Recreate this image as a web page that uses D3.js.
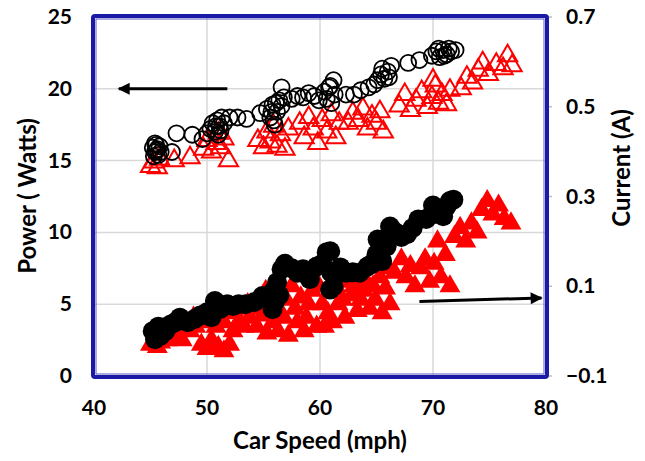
<!DOCTYPE html>
<html>
<head>
<meta charset="utf-8">
<script src="https://cdn.jsdelivr.net/npm/d3@7/dist/d3.min.js"></script>
<style>
  html, body { margin: 0; padding: 0; background: #fff; }
  svg { display: block; font-family: Lato, 'Noto Sans', sans-serif; font-weight: bold; }
</style>
</head>
<body>
<div id="chart"></div>
<script>
// Speed (mph) vs power (W, left axis) and current (A, right axis)
const speedTicks = [40, 50, 60, 70, 80]
const powerTicks = [0, 5, 10, 15, 20, 25]
const currentTicks = [-0.1, 0.1, 0.3, 0.5, 0.7]

// open black circles: [speed, power]
const powerCircles = [
  [45.2, 15.9], [45.4, 15.6], [45.5, 16.1], [45.6, 15.8], [45.7, 15.4], [45.8, 16.0], [45.3, 15.3],
  [45.5, 15.7], [45.9, 15.6], [45.4, 16.2],
  [46.9, 15.6], [47.3, 16.9],
  [48.7, 16.8], [49.6, 16.5], [50.0, 16.9], [50.3, 17.2], [50.5, 17.6], [50.7, 17.0], [50.9, 17.8],
  [51.1, 17.4], [51.3, 18.0], [51.5, 17.6], [51.0, 16.8], [50.8, 17.4], [51.2, 17.1],
  [52.0, 18.0], [52.7, 18.0], [53.5, 17.9],
  [54.7, 18.3], [55.3, 18.6], [55.6, 18.0], [55.8, 18.9], [56.0, 17.5], [56.2, 18.4], [56.4, 19.2],
  [56.6, 18.8], [56.8, 19.4], [56.6, 20.1], [55.9, 17.8], [56.1, 19.0], [55.7, 18.4],
  [57.5, 19.3], [58.0, 19.5], [58.5, 19.4], [59.0, 19.7], [59.5, 19.5], [59.9, 19.2],
  [60.4, 19.8], [60.6, 19.3], [60.8, 20.1], [61.0, 19.0], [61.2, 20.6], [61.3, 19.6], [60.9, 20.2],
  [62.3, 19.6], [63.0, 19.6], [63.6, 19.9], [64.3, 20.1], [64.8, 20.3],
  [65.1, 20.6], [65.4, 21.0], [65.7, 20.7], [65.5, 21.4], [66.0, 21.2], [66.3, 21.6], [66.1, 20.8],
  [67.8, 21.8], [68.8, 22.0],
  [69.9, 22.3], [70.3, 22.6], [70.6, 22.2], [70.9, 22.7], [71.2, 22.4], [71.6, 22.6], [72.0, 22.7],
  [71.4, 22.8], [70.5, 22.8], [71.0, 22.3]
]

// open red triangles: [speed, power]
const powerTriangles = [
  [45.0, 14.6], [45.3, 14.9], [45.6, 14.5], [45.8, 15.1], [47.1, 15.0], [48.5, 15.2],
  [49.7, 15.8], [50.0, 16.4], [50.4, 15.6], [50.8, 16.2], [51.2, 15.9], [51.5, 16.5], [51.9, 15.0], [51.0, 16.9],
  [54.5, 16.4], [55.0, 15.9], [55.3, 17.0], [55.6, 16.3], [55.9, 17.4], [56.2, 16.0], [56.5, 16.8],
  [56.9, 15.8], [57.2, 17.2],
  [58.2, 17.6], [58.6, 16.6], [59.0, 18.0], [59.4, 17.2], [59.8, 16.2], [60.2, 17.8], [60.6, 17.0],
  [61.0, 18.2], [61.4, 16.6], [61.7, 17.6],
  [62.5, 17.6], [62.9, 18.3], [63.4, 17.8], [63.8, 18.6], [64.2, 17.2], [64.6, 18.1], [65.0, 17.6],
  [65.3, 18.4], [65.6, 17.0],
  [67.0, 18.8], [67.5, 19.6], [68.0, 18.5], [68.5, 19.2], [69.0, 19.8], [69.5, 18.7], [69.9, 19.4],
  [70.2, 20.2], [70.5, 19.0], [70.8, 19.6], [71.2, 18.9], [71.5, 19.9], [70.0, 20.6],
  [72.5, 20.0], [73.0, 20.8], [73.5, 20.4], [74.0, 21.3], [74.4, 21.8], [74.9, 21.0], [75.6, 21.7],
  [76.2, 21.4], [76.6, 22.3], [77.0, 21.6]
]

// filled black circles: [speed, current]
const currentCircles = [
  [45.2, 0.0], [45.4, -0.018], [45.6, 0.005], [45.9, -0.01], [45.7, 0.01], [46.3, 0.0], [46.8, 0.015],
  [47.2, 0.02], [47.6, 0.03], [48.3, 0.02], [48.9, 0.027], [49.4, 0.035],
  [50.0, 0.042], [50.4, 0.031], [50.7, 0.067], [51.2, 0.05], [51.8, 0.06],
  [52.3, 0.056], [52.8, 0.06], [53.4, 0.06], [54.2, 0.065], [54.9, 0.078], [55.4, 0.075],
  [55.8, 0.049], [55.9, 0.09], [56.0, 0.065], [56.4, 0.08], [56.2, 0.109], [56.6, 0.138], [56.9, 0.15],
  [57.5, 0.14], [58.0, 0.13], [58.5, 0.138], [59.1, 0.116], [59.7, 0.144], [60.2, 0.15], [60.6, 0.176],
  [60.9, 0.178], [61.0, 0.13], [61.2, 0.1], [60.9, 0.093], [61.8, 0.142], [62.3, 0.13],
  [62.9, 0.131], [63.5, 0.13], [64.2, 0.144], [64.6, 0.15], [65.0, 0.171], [65.5, 0.156],
  [65.1, 0.204], [65.9, 0.189], [66.2, 0.233], [66.7, 0.22], [67.2, 0.21],
  [67.7, 0.216], [68.2, 0.23], [68.7, 0.249], [69.4, 0.25], [69.9, 0.26], [70.0, 0.28],
  [70.4, 0.271], [70.9, 0.256], [71.2, 0.278], [71.5, 0.29], [71.8, 0.293]
]

// filled red triangles: [speed, current]
const currentTriangles = [
  [45.0, -0.03], [45.3, -0.02], [45.6, -0.035], [45.9, -0.025], [46.5, -0.02], [47.2, -0.01],
  [47.8, -0.02], [48.5, 0.0], [49.0, 0.01], [49.5, -0.03], [50.0, -0.04], [50.4, -0.02],
  [51.0, -0.035], [51.5, -0.045], [52.0, -0.03], [52.3, 0.0], [52.8, 0.02], [53.3, 0.01],
  [53.8, 0.03], [54.4, 0.01], [54.9, 0.035], [55.3, -0.005], [55.8, 0.02], [56.3, 0.0],
  [56.8, 0.03], [57.2, -0.01], [57.8, 0.05], [58.3, 0.075], [58.8, 0.03], [59.3, 0.09],
  [59.7, 0.01], [60.2, 0.06], [60.7, 0.04], [61.1, 0.02], [61.6, 0.06], [62.2, 0.03],
  [62.8, 0.08], [63.3, 0.045], [63.9, 0.09], [64.4, 0.05], [64.9, 0.07], [65.3, 0.12],
  [65.8, 0.095], [66.2, 0.06], [66.6, 0.13], [67.2, 0.16], [67.6, 0.12], [68.0, 0.145],
  [68.4, 0.1], [68.9, 0.14], [69.3, 0.16], [69.7, 0.11], [70.1, 0.15], [70.4, 0.2],
  [70.7, 0.12], [71.1, 0.17], [71.5, 0.1], [71.9, 0.21], [72.4, 0.23], [72.9, 0.2],
  [73.4, 0.24], [73.9, 0.22], [74.3, 0.27], [74.8, 0.29], [75.3, 0.26], [75.8, 0.28],
  [76.3, 0.25], [76.9, 0.24],
  [45.5, 0.0], [46.2, -0.005], [47.0, 0.01], [48.0, 0.02], [48.8, 0.03], [49.5, 0.02],
  [50.2, 0.04], [50.8, 0.01], [51.5, 0.02], [52.5, 0.04], [53.0, 0.05], [53.6, 0.06],
  [54.2, 0.05], [54.7, 0.07], [55.2, 0.09], [55.6, 0.06], [56.1, 0.08], [57.0, 0.07],
  [57.5, 0.1], [58.0, 0.02], [58.6, 0.0], [59.0, 0.06], [59.9, 0.1], [60.4, 0.01],
  [61.4, 0.1], [62.0, 0.07], [62.5, 0.11], [63.0, 0.1], [63.6, 0.07], [64.1, 0.11],
  [64.7, 0.1], [65.5, 0.04], [66.0, 0.14]
]

// arrows: [speed, value] start -> end
const powerArrow = [[51.8, 20], [42.2, 20]]
const currentArrow = [[68.8, 0.066], [79.6, 0.074]]

const width = 645, height = 461
const frame = { left: 94, right: 546, top: 17, bottom: 376 }

const svg = d3.select('#chart').append('svg')
  .attr('width', width)
  .attr('height', height)

const x = d3.scaleLinear().domain([40, 80]).range([frame.left, frame.right])
const yL = d3.scaleLinear().domain([0, 25]).range([frame.bottom, frame.top])
const yR = d3.scaleLinear().domain([-0.1, 0.7]).range([frame.bottom, frame.top])

// gridlines
const grid = svg.append('g').attr('stroke', '#d9d9d9').attr('stroke-width', 1.5)
grid.selectAll('.vg').data(speedTicks.slice(1, -1)).join('line')
  .attr('x1', d => x(d)).attr('x2', d => x(d))
  .attr('y1', frame.top).attr('y2', frame.bottom)
grid.selectAll('.hg').data(powerTicks.slice(1, -1)).join('line')
  .attr('x1', frame.left).attr('x2', frame.right)
  .attr('y1', d => yL(d)).attr('y2', d => yL(d))

// right axis tick marks
svg.append('g').attr('stroke', '#bfbfbf').attr('stroke-width', 1.5)
  .selectAll('line').data(currentTicks).join('line')
  .attr('x1', frame.right).attr('x2', frame.right + 6)
  .attr('y1', d => yR(d)).attr('y2', d => yR(d))

const triFilled = d3.symbol().type(d3.symbolTriangle).size(190)
const triOpen = d3.symbol().type(d3.symbolTriangle).size(160)

// current (right axis): red filled triangles, then black filled circles
svg.append('g').selectAll('path').data(currentTriangles).join('path')
  .attr('d', triFilled)
  .attr('transform', d => `translate(${x(d[0])},${yR(d[1])})`)
  .attr('fill', '#ff0000')

svg.append('g').selectAll('circle').data(currentCircles).join('circle')
  .attr('cx', d => x(d[0])).attr('cy', d => yR(d[1]))
  .attr('r', 10)
  .attr('fill', '#000')

// power (left axis): red open triangles, then black open circles
svg.append('g').selectAll('path').data(powerTriangles).join('path')
  .attr('d', triOpen)
  .attr('transform', d => `translate(${x(d[0])},${yL(d[1])})`)
  .attr('fill', 'none')
  .attr('stroke', '#ff0000')
  .attr('stroke-width', 2)

svg.append('g').selectAll('circle').data(powerCircles).join('circle')
  .attr('cx', d => x(d[0])).attr('cy', d => yL(d[1]))
  .attr('r', 8)
  .attr('fill', 'none')
  .attr('stroke', '#000')
  .attr('stroke-width', 1.8)

// arrows
const defs = svg.append('defs')
defs.append('marker')
  .attr('id', 'head')
  .attr('viewBox', '0 0 10 10')
  .attr('refX', 9).attr('refY', 5)
  .attr('markerWidth', 4.6).attr('markerHeight', 4)
  .attr('markerUnits', 'strokeWidth')
  .attr('orient', 'auto')
  .append('path').attr('d', 'M0,0 L10,5 L0,10 Z').attr('fill', '#000')

svg.append('line')
  .attr('x1', x(powerArrow[0][0])).attr('y1', yL(powerArrow[0][1]))
  .attr('x2', x(powerArrow[1][0])).attr('y2', yL(powerArrow[1][1]))
  .attr('stroke', '#000').attr('stroke-width', 3)
  .attr('marker-end', 'url(#head)')

svg.append('line')
  .attr('x1', x(currentArrow[0][0])).attr('y1', yR(currentArrow[0][1]))
  .attr('x2', x(currentArrow[1][0])).attr('y2', yR(currentArrow[1][1]))
  .attr('stroke', '#000').attr('stroke-width', 3)
  .attr('marker-end', 'url(#head)')

// plot frame: thick blue outer, thin inner line
svg.append('rect')
  .attr('x', frame.left - 1).attr('y', frame.top - 1)
  .attr('width', frame.right - frame.left + 2).attr('height', frame.bottom - frame.top + 2)
  .attr('fill', 'none').attr('stroke', '#1a1aa6').attr('stroke-width', 4).attr('rx', 2)
svg.append('rect')
  .attr('x', frame.left + 2).attr('y', frame.top + 2)
  .attr('width', frame.right - frame.left - 4).attr('height', frame.bottom - frame.top - 4)
  .attr('fill', 'none').attr('stroke', '#5a5ac0').attr('stroke-width', 1)

// tick labels
svg.append('g').attr('font-size', 21).attr('text-anchor', 'end')
  .selectAll('text').data(powerTicks).join('text')
  .attr('x', 72).attr('y', d => yL(d) + 7)
  .text(d => d)

svg.append('g').attr('font-size', 21).attr('text-anchor', 'start')
  .selectAll('text').data(currentTicks).join('text')
  .attr('x', 566).attr('y', d => yR(d) + 7)
  .text(d => d3.format('.1f')(d))

svg.append('g').attr('font-size', 21).attr('text-anchor', 'middle')
  .selectAll('text').data(speedTicks).join('text')
  .attr('x', d => x(d)).attr('y', 415)
  .text(d => d)

// axis titles
svg.append('text')
  .attr('x', 320).attr('y', 449)
  .attr('text-anchor', 'middle').attr('font-size', 24)
  .text('Car Speed (mph)')

svg.append('text')
  .attr('transform', 'translate(36,196) rotate(-90)')
  .attr('text-anchor', 'middle').attr('font-size', 24)
  .text('Power ( Watts)')

svg.append('text')
  .attr('transform', 'translate(630,168) rotate(-90)')
  .attr('text-anchor', 'middle').attr('font-size', 24)
  .text('Current (A)')
</script>
</body>
</html>
